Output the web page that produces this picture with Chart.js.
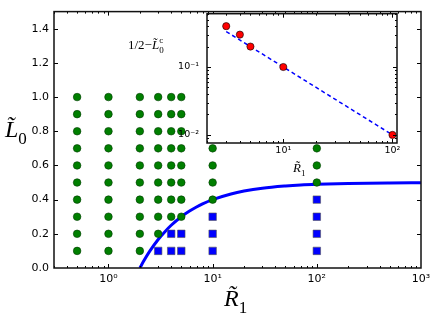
<!DOCTYPE html>
<html>
<head>
<meta charset="utf-8">
<script src="https://cdn.jsdelivr.net/npm/chart.js@4.4.0/dist/chart.umd.min.js"></script>
<style>
  html, body { margin: 0; padding: 0; background: #fff; }
  #wrap { position: relative; width: 436px; height: 320px; }
  #wrap canvas { position: absolute; left: 0; top: 0; }
</style>
</head>
<body>
<div id="wrap">
  <canvas id="main" width="436" height="320"></canvas>
  <canvas id="inset" width="436" height="320"></canvas>
</div>
<script>
// main panel: sampled grid of R1 / L0 values
const r1Values = [0.5, 1, 2, 3, 4, 5, 10, 100];
const l0Values = [0.1, 0.2, 0.3, 0.4, 0.5, 0.6, 0.7, 0.8, 0.9, 1.0];
// how many of the lowest L0 points in each R1 column are blue squares
const blueCounts = [0, 0, 0, 1, 2, 2, 3, 4];
// boundary curve
const curveR1 = [2, 2.2, 2.5, 3, 3.5, 4, 5, 6, 7, 8, 10, 15, 20, 30, 50, 70, 100, 200, 500, 1000];
const curveL0 = [0, 0.045, 0.1, 0.167, 0.214, 0.25, 0.3, 0.333, 0.357, 0.375, 0.4, 0.433, 0.45, 0.467, 0.48, 0.486, 0.49, 0.495, 0.498, 0.499];
const yTicks = [0, 0.2, 0.4, 0.6, 0.8, 1.0, 1.2, 1.4];

// inset: 1/2 - L0c against R1
const insetR1 = [3, 4, 5, 10, 100];
const insetGap = [0.4, 0.3, 0.2, 0.1, 0.01];
const fitR1 = [3, 100];
const fitGap = [0.333, 0.01];

const sup = { '-': '\u207B', '0': '\u2070', '1': '\u00B9', '2': '\u00B2', '3': '\u00B3' };
const isPow10 = v => Math.abs(Math.log10(v) - Math.round(Math.log10(v))) < 1e-6;
const isNice = v => {
  const m = v / Math.pow(10, Math.floor(Math.log10(v) + 1e-9));
  return Math.abs(m - Math.round(m)) < 1e-6;
};
const powLabel = v => isPow10(v) ? '10' + String(Math.round(Math.log10(v))).split('').map(c => sup[c]).join('') : '';

const frame = {
  id: 'frame',
  afterDatasetsDraw(chart) {
    const { ctx, chartArea: a } = chart;
    const xs = chart.scales.x, ys = chart.scales.y;
    ctx.save();
    ctx.strokeStyle = '#000';
    ctx.lineWidth = 1;
    const seg = (x1, y1, x2, y2) => { ctx.beginPath(); ctx.moveTo(x1, y1); ctx.lineTo(x2, y2); ctx.stroke(); };
    xs.ticks.forEach(t => {
      if (xs.type === 'logarithmic' && !isNice(t.value)) return;
      const px = Math.round(xs.getPixelForValue(t.value)) + 0.5;
      if (px < a.left || px > a.right) return;
      const len = xs.type !== 'logarithmic' || isPow10(t.value) ? 4 : 2;
      seg(px, a.bottom, px, a.bottom - len);
      seg(px, a.top, px, a.top + len);
    });
    ys.ticks.forEach(t => {
      if (ys.type === 'logarithmic' && !isNice(t.value)) return;
      const py = Math.round(ys.getPixelForValue(t.value)) + 0.5;
      if (py < a.top || py > a.bottom) return;
      const len = ys.type !== 'logarithmic' || isPow10(t.value) ? 4 : 2;
      seg(a.left, py, a.left + len, py);
      seg(a.right, py, a.right - len, py);
    });
    ctx.lineWidth = 1.5;
    ctx.strokeStyle = '#111';
    ctx.strokeRect(a.left, a.top, a.right - a.left, a.bottom - a.top);
    ctx.restore();
  }
};

function mathLabel(ctx, x, y, pre, sym, size, sub, supTxt) {
  ctx.save();
  ctx.fillStyle = '#000';
  ctx.textAlign = 'left';
  ctx.textBaseline = 'alphabetic';
  let cx = x;
  if (pre) {
    ctx.font = size + 'px "Liberation Serif"';
    ctx.fillText(pre, cx, y);
    cx += ctx.measureText(pre).width;
  }
  ctx.font = 'italic ' + size + 'px "Liberation Serif"';
  ctx.fillText(sym + '\u0303', cx, y);
  cx += ctx.measureText(sym).width;
  ctx.font = Math.round(size * 0.72) + 'px "Liberation Serif"';
  if (sub) ctx.fillText(sub, cx, y + size * 0.3);
  if (supTxt) ctx.fillText(supTxt, cx, y - size * 0.45);
  ctx.restore();
}

const mainLabels = {
  id: 'mainLabels',
  afterDraw(chart) {
    const ctx = chart.ctx;
    mathLabel(ctx, 5, 137, '', 'L', 24, '0');
    mathLabel(ctx, 224, 306, '', 'R', 24, '1');
  }
};

const insetLabels = {
  id: 'insetLabels',
  beforeDatasetsDraw(chart) {
    const { ctx, chartArea: a } = chart;
    ctx.save();
    ctx.fillStyle = '#fff';
    ctx.fillRect(a.left, a.top, a.right - a.left, a.bottom - a.top);
    ctx.restore();
  },
  afterDraw(chart) {
    const ctx = chart.ctx;
    mathLabel(ctx, 128, 49, '1/2\u2212', 'L', 13, '0', 'c');
    mathLabel(ctx, 293, 172, '', 'R', 13, '1');
  }
};

const greenPts = [], bluePts = [];
r1Values.forEach((r, i) => {
  l0Values.forEach((l, j) => {
    (j < blueCounts[i] ? bluePts : greenPts).push({ x: r, y: l });
  });
});

const tickFont = { family: 'DejaVu Sans', size: 11 };

new Chart(document.getElementById('main'), {
  type: 'scatter',
  data: {
    datasets: [
      { data: greenPts, pointStyle: 'circle', pointRadius: 3.8, backgroundColor: '#007f00', borderColor: '#003a00', borderWidth: 0.6 },
      { data: bluePts, pointStyle: 'rect', pointRadius: 5.3, backgroundColor: '#0000ff', borderColor: '#555555', borderWidth: 0.6 },
      {
        type: 'line',
        data: curveR1.map((x, i) => ({ x: x, y: curveL0[i] })),
        borderColor: '#0000ff', borderWidth: 3, pointRadius: 0, fill: false,
        cubicInterpolationMode: 'monotone'
      }
    ]
  },
  options: {
    responsive: false,
    animation: false,
    devicePixelRatio: 1,
    layout: { padding: { top: 5, right: 15, left: 0, bottom: 0 } },
    plugins: { legend: { display: false }, tooltip: { enabled: false } },
    scales: {
      x: {
        type: 'logarithmic', min: 0.3, max: 1000,
        grid: { display: false, drawTicks: false }, border: { display: false },
        afterFit: s => { s.height = 52; },
        ticks: { autoSkip: false, maxRotation: 0, padding: 5, color: '#000', font: tickFont, callback: v => powLabel(v) }
      },
      y: {
        min: 0, max: 1.5,
        grid: { display: false, drawTicks: false }, border: { display: false },
        afterFit: s => { s.width = 54; },
        afterBuildTicks: s => { s.ticks = yTicks.map(v => ({ value: v })); },
        ticks: { padding: 5, color: '#000', font: tickFont, callback: v => Number(v).toFixed(1) }
      }
    }
  },
  plugins: [frame, mainLabels]
});

const insetFont = { family: 'DejaVu Sans', size: 9.5 };

new Chart(document.getElementById('inset'), {
  type: 'scatter',
  data: {
    datasets: [
      { data: insetR1.map((x, i) => ({ x: x, y: insetGap[i] })), pointRadius: 3.6, backgroundColor: '#ff0000', borderColor: '#000', borderWidth: 0.6 },
      {
        type: 'line',
        data: fitR1.map((x, i) => ({ x: x, y: fitGap[i] })),
        borderColor: '#0000ff', borderWidth: 1.5, borderDash: [4, 3], pointRadius: 0, fill: false
      }
    ]
  },
  options: {
    responsive: false,
    animation: false,
    devicePixelRatio: 1,
    layout: { padding: { top: 11, right: 39, left: 0, bottom: 0 } },
    plugins: { legend: { display: false }, tooltip: { enabled: false } },
    scales: {
      x: {
        type: 'logarithmic', min: 2, max: 110,
        grid: { display: false, drawTicks: false }, border: { display: false },
        afterFit: s => { s.height = 177; },
        ticks: { autoSkip: false, maxRotation: 0, padding: 2, color: '#000', font: insetFont, callback: v => powLabel(v) }
      },
      y: {
        type: 'logarithmic', min: 0.0076, max: 0.61,
        grid: { display: false, drawTicks: false }, border: { display: false },
        afterFit: s => { s.width = 207; },
        ticks: { autoSkip: false, padding: 8, color: '#000', font: insetFont, callback: v => powLabel(v) }
      }
    }
  },
  plugins: [insetLabels, frame]
});
</script>
</body>
</html>
